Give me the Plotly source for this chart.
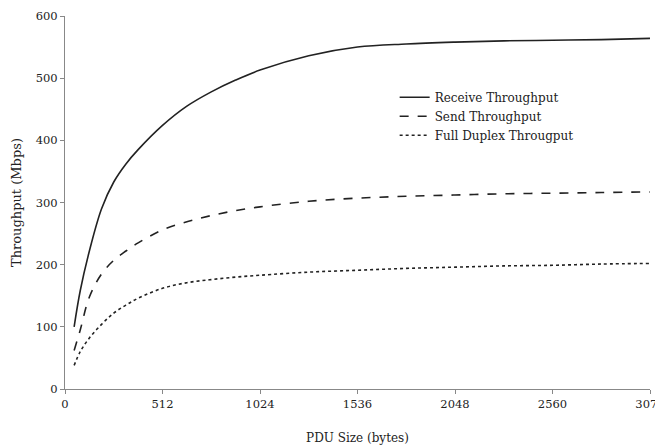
import plotly.graph_objects as go

pdu_size = [48, 80, 128, 192, 256, 320, 384, 512, 640, 768, 896, 1024,
            1280, 1536, 1792, 2048, 2304, 2560, 2816, 3072]
receive = [100, 158, 222, 290, 333, 362, 385, 424, 455, 478, 497, 513,
           536, 550, 555, 558, 560, 561, 562, 564]
send = [62, 95, 148, 185, 207, 222, 235, 256, 269, 279, 287, 293,
        302, 307, 310, 312, 314, 315, 316, 317]
full_duplex = [38, 60, 82, 104, 122, 135, 146, 162, 171, 176, 180, 183,
               188, 191, 194, 196, 198, 199, 201, 202]

x_ticks = [0, 512, 1024, 1536, 2048, 2560, 3072]
y_ticks = [0, 100, 200, 300, 400, 500, 600]

font = "DejaVu Serif"
ink = "#222222"

fig = go.Figure()
fig.add_trace(go.Scatter(x=pdu_size, y=receive, mode="lines", name="Receive Throughput",
                         line=dict(color=ink, width=1.6, dash="solid", shape="spline")))
fig.add_trace(go.Scatter(x=pdu_size, y=send, mode="lines", name="Send Throughput",
                         line=dict(color=ink, width=1.6, dash="dash", shape="spline")))
fig.add_trace(go.Scatter(x=pdu_size, y=full_duplex, mode="lines", name="Full Duplex Througput",
                         line=dict(color=ink, width=1.6, dash="dot", shape="spline")))

fig.update_layout(
    width=655, height=437,
    margin=dict(l=57, r=13, t=8, b=56),
    paper_bgcolor="white", plot_bgcolor="white",
    font=dict(family=font, size=11, color=ink),
    showlegend=True,
    legend=dict(x=0.5635, y=0.821, xanchor="left", yanchor="top",
                bgcolor="rgba(0,0,0,0)", font=dict(family=font, size=12),
                tracegroupgap=0, itemwidth=30),
)
fig.update_xaxes(range=[0, 3072], tickvals=x_ticks, ticktext=[str(v) for v in x_ticks],
                 showgrid=False, zeroline=False, showline=True, linecolor="#888888", linewidth=1,
                 ticks="outside", ticklen=4, tickcolor="#888888", automargin=False,
                 ticklabeloverflow="allow",
                 tickfont=dict(family=font, size=11.5),
                 title=dict(text="PDU Size (bytes)", font=dict(family=font, size=12), standoff=23))
fig.update_yaxes(range=[0, 600], tickvals=y_ticks, ticktext=[str(v) for v in y_ticks],
                 showgrid=False, zeroline=False, showline=True, linecolor="#888888", linewidth=1,
                 ticks="outside", ticklen=4, tickcolor="#888888", automargin=False,
                 ticklabeloverflow="allow",
                 tickfont=dict(family=font, size=11.5),
                 title=dict(text="Throughput (Mbps)", font=dict(family=font, size=13), standoff=11))

fig.write_html("out.html")
